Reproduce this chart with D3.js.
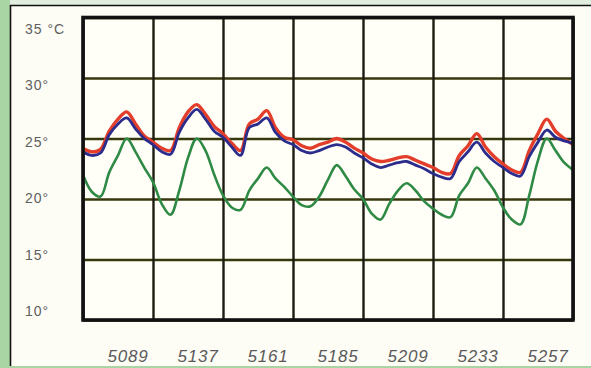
<!DOCTYPE html>
<html>
<head>
<meta charset="utf-8">
<script src="https://cdn.jsdelivr.net/npm/d3@7"></script>
<style>
  html, body { margin: 0; padding: 0; background: #fdfdf5; }
  svg { display: block; }
</style>
</head>
<body>
<svg id="chart" width="591" height="368"></svg>
<script>
// Sample times (hours from the start of the record, every 3 h)
const hours = [0,3,6,9,12,15,18,21,24,27,30,33,36,39,42,45,48,51,54,57,60,63,66,69,72,75,78,81,84,87,90,93,96,99,102,105,108,111,114,117,120,123,126,129,132,135,138,141,144,147,150,153,156,159,162,165,168];

// Day labels under each column
const dayLabels = ["5089", "5137", "5161", "5185", "5209", "5233", "5257"];

// Temperature grid values (°C)
const tempTicks = [10, 15, 20, 25, 30, 35];

// Series (°C)
const redSeries = [24.2,23.9,24.1,25.6,26.6,27.2,26.2,25.2,24.7,24.2,
                   24.0,25.9,27.2,27.8,27.0,26.0,25.4,24.6,24.0,26.2,
                   26.6,27.3,25.9,25.1,24.9,24.4,24.2,24.5,24.7,25.0,
                   24.7,24.2,23.8,23.3,23.1,23.2,23.4,23.5,23.2,22.9,
                   22.6,22.2,22.1,23.6,24.4,25.4,24.3,23.5,22.9,22.4,
                   22.2,24.0,25.4,26.6,25.6,25.0,24.5];
const blueSeries = [23.9,23.6,23.8,25.3,26.2,26.7,25.8,25.0,24.5,23.9,
                    23.7,25.5,26.7,27.4,26.6,25.6,25.1,24.3,23.6,25.9,
                    26.2,26.7,25.5,24.8,24.5,24.0,23.8,24.0,24.3,24.5,
                    24.3,23.8,23.4,22.9,22.6,22.8,23.0,23.1,22.8,22.5,
                    22.1,21.8,21.7,23.1,23.9,24.7,23.8,23.1,22.6,22.1,
                    21.9,23.5,24.7,25.7,25.1,24.8,24.6];
const greenSeries = [22.0,20.6,20.2,22.2,23.6,25.0,23.9,22.6,21.4,19.6,
                     18.7,20.7,23.4,25.0,24.0,22.0,20.3,19.3,19.1,20.7,
                     21.7,22.6,21.7,21.0,20.2,19.5,19.4,20.2,21.6,22.8,
                     21.9,20.8,20.0,18.8,18.3,19.6,20.7,21.3,20.7,19.8,
                     19.2,18.7,18.5,20.3,21.3,22.6,21.7,20.7,19.3,18.3,
                     17.9,20.3,23.2,25.0,24.0,23.0,22.4];

const W = 591, H = 368;
const plot = { left: 83, right: 573, top: 17.5, bottom: 320 };

const svg = d3.select("#chart");

// Page frame: green side strip, pale top strip, thin dark rules
svg.append("rect").attr("x", 0).attr("y", 0).attr("width", W).attr("height", H).attr("fill", "#fdfdf5");
svg.append("rect").attr("x", 0).attr("y", 0).attr("width", W).attr("height", 5).attr("fill", "#e1eee0");
svg.append("rect").attr("x", 0).attr("y", 0).attr("width", 10).attr("height", H).attr("fill", "#a9d5a5");
svg.append("rect").attr("x", 0).attr("y", 366).attr("width", W).attr("height", 2).attr("fill", "#a9d5a5");
svg.append("line").attr("x1", 10).attr("x2", W).attr("y1", 5.5).attr("y2", 5.5)
   .attr("stroke", "#111").attr("stroke-width", 1.6);
svg.append("line").attr("x1", 10.5).attr("x2", 10.5).attr("y1", 5).attr("y2", 366)
   .attr("stroke", "#111").attr("stroke-width", 1.6);

const x = d3.scaleLinear().domain([0, 168]).range([plot.left, plot.right]);
const y = d3.scaleLinear().domain([10, 35]).range([plot.bottom, plot.top]);

// Plot background
svg.append("rect")
  .attr("x", plot.left).attr("y", plot.top)
  .attr("width", plot.right - plot.left).attr("height", plot.bottom - plot.top)
  .attr("fill", "#fffff7");

// Horizontal grid (olive-dark rules)
const hGrid = svg.append("g")
  .attr("transform", `translate(${plot.left},0)`)
  .call(d3.axisLeft(y).tickValues(tempTicks).tickFormat("").tickSize(-(plot.right - plot.left)));
hGrid.select(".domain").remove();
hGrid.selectAll(".tick line").attr("stroke", "#38380f").attr("stroke-width", 2.4);

// Vertical grid, one rule per day
const dayBounds = d3.range(dayLabels.length + 1).map(i => i * 24);
const vGrid = svg.append("g")
  .attr("transform", `translate(0,${plot.bottom})`)
  .call(d3.axisBottom(x).tickValues(dayBounds).tickFormat("").tickSize(-(plot.bottom - plot.top)));
vGrid.select(".domain").remove();
vGrid.selectAll(".tick line").attr("stroke", "#1c1c10").attr("stroke-width", 2.4);

// Clip the traces to the plot
svg.append("clipPath").attr("id", "plotClip")
  .append("rect")
  .attr("x", plot.left).attr("y", plot.top)
  .attr("width", plot.right - plot.left).attr("height", plot.bottom - plot.top);

const line = d3.line()
  .x((d, i) => x(hours[i]))
  .y(d => y(d))
  .curve(d3.curveCatmullRom.alpha(0.5));

const traces = svg.append("g").attr("clip-path", "url(#plotClip)");
traces.append("path").datum(greenSeries)
  .attr("d", line).attr("fill", "none")
  .attr("stroke", "#2f8a45").attr("stroke-width", 2.6).attr("stroke-linejoin", "round");
traces.append("path").datum(redSeries)
  .attr("d", line).attr("fill", "none")
  .attr("stroke", "#e33d2b").attr("stroke-width", 3.4).attr("stroke-linejoin", "round");
traces.append("path").datum(blueSeries)
  .attr("d", line).attr("fill", "none")
  .attr("stroke", "#2b2c8c").attr("stroke-width", 2.8).attr("stroke-linejoin", "round");

// Heavy plot border
svg.append("rect")
  .attr("x", plot.left).attr("y", plot.top)
  .attr("width", plot.right - plot.left).attr("height", plot.bottom - plot.top)
  .attr("fill", "none").attr("stroke", "#111").attr("stroke-width", 3.6);

// Temperature labels (left-aligned in the margin)
const labelY = d3.scaleLinear().domain([10, 35]).range([316, 34]);
svg.append("g").selectAll("text")
  .data(tempTicks)
  .join("text")
  .attr("x", 25)
  .attr("y", d => labelY(d))
  .attr("font-family", "Liberation Sans, Arial, sans-serif")
  .attr("font-size", 14)
  .attr("letter-spacing", 1)
  .attr("fill", "#5e5e5e")
  .text(d => d === 35 ? d + " °C" : d + "°");

// Day labels (italic, under the columns)
svg.append("g").selectAll("text")
  .data(dayLabels)
  .join("text")
  .attr("x", (d, i) => x(i * 24 + 12) + 10)
  .attr("y", 362)
  .attr("text-anchor", "middle")
  .attr("font-family", "Liberation Sans, Arial, sans-serif")
  .attr("font-style", "italic")
  .attr("font-size", 17)
  .attr("letter-spacing", 0.8)
  .attr("fill", "#5a5a5a")
  .text(d => d);
</script>
</body>
</html>
